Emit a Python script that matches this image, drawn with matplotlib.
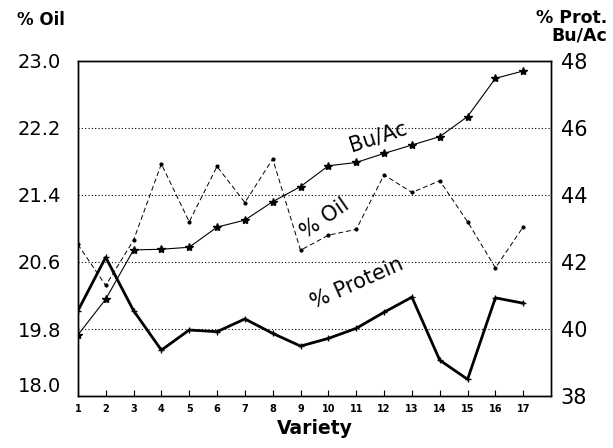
import matplotlib.pyplot as plt
import numpy as np

plt.rcParams['font.family'] = ['DejaVu Sans']

variety = np.arange(1, 18)

# values
protein = [40.54, 42.14, 40.55, 39.37, 39.97, 39.92, 40.30, 39.87, 39.49,
           39.72, 40.02, 40.50, 40.95, 39.07, 38.50, 40.93, 40.77]
bu_ac = [39.82, 40.89, 42.36, 42.38, 42.44, 43.04, 43.25, 43.80, 44.25,
         44.87, 44.97, 45.24, 45.49, 45.74, 46.34, 47.48, 47.70]
oil = [20.81, 20.32, 20.86, 21.77, 21.08, 21.74, 21.31, 21.83, 20.74,
       20.92, 20.99, 21.64, 21.43, 21.57, 21.08, 20.53, 21.02]

oil_ticks = [18.0, 19.8, 20.6, 21.4, 22.2, 23.0]
right_ticks = [38, 40, 42, 44, 46, 48]

# left axis is broken between 18.0 and 19.8: evenly spaced ticks
steps = np.arange(len(oil_ticks))
fwd = lambda v: np.interp(v, oil_ticks, steps)
inv = lambda v: np.interp(v, steps, oil_ticks)

fig = plt.figure(figsize=(6.13, 4.48), dpi=100)
ax = fig.add_axes([0.127, 0.116, 0.772, 0.748])
ax2 = ax.twinx()

ax.set_yscale('function', functions=(fwd, inv))
ax.set_ylim(18.0, 23.0)
ax.set_yticks(oil_ticks)
ax.set_yticklabels([f"{t:.1f}" for t in oil_ticks], fontsize=14)
ax.tick_params(axis='y', length=0, pad=12)
ax.get_yticklabels()[0].set_va('bottom')  # 18.0 sits a bit above the axis

ax2.set_ylim(38, 48)
ax2.set_yticks(right_ticks)
ax2.set_yticklabels([str(t) for t in right_ticks], fontsize=15)
ax2.tick_params(axis='y', length=0, pad=7)
for t in right_ticks[1:-1]:
    ax2.axhline(t, color='black', ls=(0, (1, 2)), lw=0.8, zorder=0)

ax.set_xlim(1, 18)
ax.set_xticks(variety)
ax.set_xticklabels([str(v) for v in variety], fontsize=7, fontweight='bold')
ax.tick_params(axis='x', direction='in', length=4, width=0.8, pad=6)
ax.set_xlabel('Variety', fontsize=13.5, fontweight='bold', labelpad=3)

ax.plot(variety, oil, color='black', ls=(0, (5, 3)), lw=0.7,
        marker='.', ms=4)
ax2.plot(variety, bu_ac, color='black', lw=0.8, marker='*', ms=6)
ax2.plot(variety, protein, color='black', lw=2.0, marker='+', ms=5,
         mew=1)

for a in (ax, ax2):
    for s in a.spines.values():
        s.set_linewidth(1.0)

ax2.text(11.79, 45.73, 'Bu/Ac', fontsize=15, rotation=18,
         ha='center', va='center', rotation_mode='anchor')
ax2.text(9.88, 43.3, '% Oil', fontsize=15, rotation=35,
         ha='center', va='center', rotation_mode='anchor')
ax2.text(11.04, 41.37, '% Protein', fontsize=15, rotation=24,
         ha='center', va='center', rotation_mode='anchor')

fig.text(0.028, 0.955, '% Oil', fontsize=12, fontweight='bold',
         ha='left', va='center')
fig.text(0.99, 0.94, '% Prot.\nBu/Ac', fontsize=12.5, fontweight='bold',
         ha='right', va='center', linespacing=0.95)

fig.savefig('out.png', dpi=100)
